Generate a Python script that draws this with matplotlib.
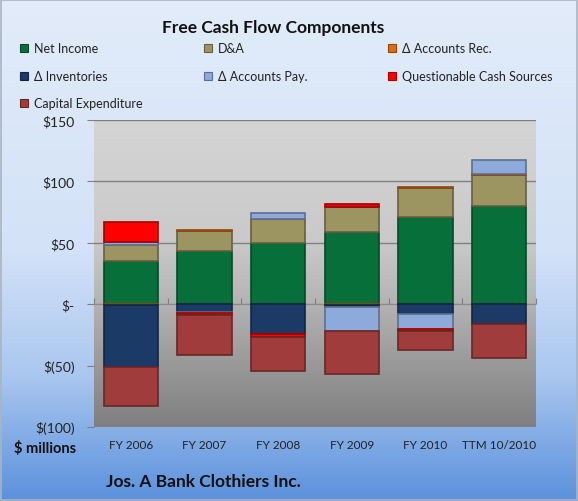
import numpy as np
import matplotlib
matplotlib.use("Agg")
import matplotlib.pyplot as plt
from matplotlib.colors import LinearSegmentedColormap, to_rgb
from matplotlib.patches import Rectangle

plt.rcParams["font.family"] = ["Lato", "DejaVu Sans"]

# data ($ millions)
years = ["FY 2006", "FY 2007", "FY 2008", "FY 2009", "FY 2010", "TTM 10/2010"]
net_income = [35, 43, 50, 59, 71, 80]
d_and_a = [13.5, 16.5, 19, 20.5, 23.5, 25]
d_acc_rec = [-1, 1, 0, -1, 1, 1]
d_inventories = [-50, -6, -24, -1.5, -8, -16.5]
d_acc_pay = [2.5, -1, 5.5, -19, -12, 11.5]
questionable = [16, -2, -2.5, 2.5, -1.5, 0]
capex = [-32, -32, -28, -35.5, -16, -27]

series = [
    ("Net Income", net_income, "#07703a"),
    ("D&A", d_and_a, "#9c9461"),
    ("\u0394 Accounts Rec.", d_acc_rec, "#e36c0a"),
    ("\u0394 Inventories", d_inventories, "#1c3a66"),
    ("\u0394 Accounts Pay.", d_acc_pay, "#8eaadb"),
    ("Questionable Cash Sources", questionable, "#ff0000"),
    ("Capital Expenditure", capex, "#a03c3c"),
]
yticks = [150, 100, 50, 0, -50, -100]
ytick_labels = ["$150", "$100", "$50", "$-", "$(50)", "$(100)"]

W, H = 578, 502
fig = plt.figure(figsize=(W / 100, H / 100), dpi=100)

def darker(c, f=0.65):
    r, g, b = to_rgb(c)
    return (r * f, g * f, b * f)

# figure background gradient
bg = fig.add_axes([0, 0, 1, 1], zorder=-10)
bg_cmap = LinearSegmentedColormap.from_list(
    "bg", [(0, "#e2ecfa"), (0.5, "#d3e2f7"), (0.75, "#aac7ef"), (1, "#5b91dc")])
bg.imshow(np.linspace(0, 1, 256)[:, None], aspect="auto", cmap=bg_cmap,
          extent=[0, 1, 0, 1])
bg.set_xlim(0, 1); bg.set_ylim(0, 1); bg.axis("off")
bg.add_patch(Rectangle((0.002, 0.002), 0.996, 0.996, fill=False,
                       ec="#aab4c2", lw=1.2))

# plot area
ax = fig.add_axes([94 / W, (H - 428) / H, 442 / W, 307 / H])
ax.set_xlim(-0.5, len(years) - 0.5)
ax.set_ylim(-100, 150)
pa_cmap = LinearSegmentedColormap.from_list(
    "pa", [(0, "#7f7f7f"), (0.45, "#b9b9b9"), (0.6, "#c9c9c9"), (1, "#d5d5d5")])
ax.imshow(np.linspace(0, 1, 256)[:, None], aspect="auto", cmap=pa_cmap,
          origin="lower", extent=[-0.5, len(years) - 0.5, -100, 150], zorder=0)

for y in [150, 100, 50]:
    ax.axhline(y, color="#808080", lw=1, zorder=1)
ax.axhline(0, color="#8a8a8a", lw=1, zorder=1)

x = np.arange(len(years))
pos_bottom = np.zeros(len(years))
neg_bottom = np.zeros(len(years))
for name, vals, col in series:
    v = np.array(vals, dtype=float)
    bottom = np.where(v >= 0, pos_bottom, neg_bottom)
    keep = v != 0
    ax.bar(x[keep], v[keep], 0.74, bottom=bottom[keep], color=col,
           edgecolor=darker(col), lw=1.2, zorder=3)
    pos_bottom += np.where(v > 0, v, 0)
    neg_bottom += np.where(v < 0, v, 0)

for s in ax.spines.values():
    s.set_visible(False)
ax.set_yticks(yticks)
ax.set_yticklabels(ytick_labels, fontsize=10, color="#222222")
ax.tick_params(axis="y", length=5, color="#808080", pad=9)
ax.set_xticks(x)
ax.set_xticklabels(years, fontsize=8.5, color="#222222")
ax.tick_params(axis="x", length=0, pad=9)

# category separators on the zero line
sec = ax.secondary_xaxis(0.4)
sec.set_xticks(np.arange(len(years) + 1) - 0.5)
sec.set_xticklabels([])
sec.tick_params(direction="in", length=4, color="#808080")
sec.spines["bottom"].set_visible(False)

# title and legend
fig.text(273 / W, 1 - 28 / H, "Free Cash Flow Components", ha="center",
         va="center", fontsize=12.5, fontweight="bold", color="#111111")
legend_rows = [[0, 1, 2], [3, 4, 5], [6]]
col_x = [24, 208, 392]
row_y = [49, 77, 104]
for r, idxs in enumerate(legend_rows):
    for c, i in enumerate(idxs):
        name, _, col = series[i]
        fig.patches.append(Rectangle(((col_x[c] - 4) / W, 1 - (row_y[r] + 4) / H),
                                     8 / W, 8 / H, transform=fig.transFigure,
                                     fc=col, ec=darker(col), lw=0.8))
        fig.text((col_x[c] + 10) / W, 1 - row_y[r] / H, name, va="center",
                 fontsize=9, color="#222222")

fig.text(45 / W, 1 - 449 / H, "$ millions", ha="center", va="center",
         fontsize=10.5, fontweight="bold", color="#111111")
fig.text(106 / W, 1 - 482 / H, "Jos. A Bank Clothiers Inc.", ha="left",
         va="center", fontsize=12.5, fontweight="bold", color="#111111")

fig.savefig("out.png", dpi=100)
